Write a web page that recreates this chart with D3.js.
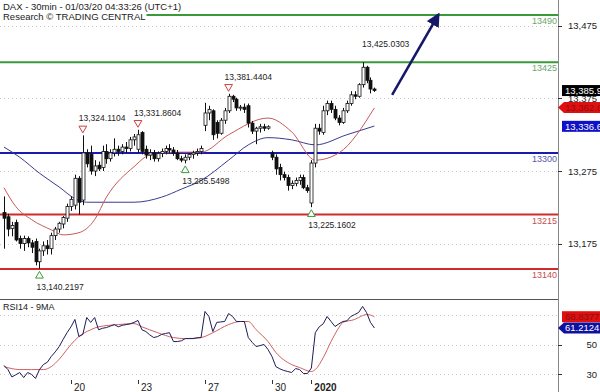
<!DOCTYPE html>
<meta charset="utf-8">
<style>
body { margin: 0; background: #fff; }
svg { display: block; font-family: "Liberation Sans", Arial, sans-serif; }
</style>
<script src="https://d3js.org/d3.v7.min.js"></script>
<div id="chart"></div>
<script>
// ---- data ----
// 30 min bars, [open, high, low, close]
var ohlc = [
  [13218,13240,13168,13210],[13212,13216,13185,13195],[13196,13205,13185,13200],[13204,13208,13178,13180],
  [13182,13186,13168,13175],[13175,13186,13165,13182],[13182,13185,13170,13176],[13176,13180,13162,13170],
  [13178,13182,13145,13150],[13150,13168,13140.22,13165],[13165,13178,13158,13172],[13172,13180,13160,13168],
  [13168,13190,13160,13186],[13186,13198,13180,13195],[13195,13205,13190,13203],[13202,13213,13196,13211],
  [13210,13230,13205,13226],
  [13226,13240,13220,13236],[13228,13270,13222,13265],[13265,13268,13215,13232],[13235,13324.11,13228,13300],
  [13300,13305,13280,13285],[13298,13310,13270,13275],[13275,13290,13268,13282],[13283,13288,13275,13278],
  [13280,13310,13275,13302],[13302,13312,13285,13292],[13292,13305,13288,13300],[13300,13320,13295,13305],
  [13305,13310,13296,13302],[13302,13312,13298,13308],[13308,13315,13300,13306],[13306,13322,13302,13318],
  [13318,13326,13310,13322],
  [13305,13331.86,13300,13325],[13328,13330,13298,13302],[13305,13310,13292,13297],[13297,13305,13290,13300],
  [13300,13304,13288,13292],[13292,13302,13288,13299],[13299,13306,13294,13302],[13302,13310,13298,13306],
  [13306,13312,13300,13304],[13304,13308,13296,13300],[13300,13304,13290,13292],[13292,13296,13287,13290],
  [13290,13298,13285.55,13294],[13294,13300,13290,13298],[13298,13303,13292,13300],[13300,13306,13296,13302],
  [13302,13310,13298,13306],
  [13338,13369,13330,13355],[13355,13365,13345,13360],[13358,13360,13318,13325],[13342,13345,13320,13327],
  [13327,13348,13325,13345],[13345,13362,13340,13358],[13358,13381.44,13355,13378],[13378,13380,13370,13374],
  [13374,13376,13358,13362],[13362,13366,13358,13363],[13363,13368,13355,13360],[13365,13368,13335,13341],
  [13341,13344,13326,13330],[13330,13336,13312,13334],[13334,13340,13328,13336],[13336,13340,13330,13334],
  [13334,13338,13332,13336],
  [13300,13303,13290,13294],[13294,13298,13270,13278],[13280,13285,13262,13270],[13270,13274,13262,13266],
  [13266,13270,13248,13255],[13255,13262,13250,13258],[13258,13266,13254,13262],[13262,13270,13256,13266],
  [13266,13270,13250,13252],[13252,13256,13245,13248],
  [13231,13290,13225.16,13286],[13286,13340,13280,13334],[13334,13340,13325,13330],[13328,13365,13325,13358],
  [13358,13372,13352,13368],[13368,13372,13355,13360],[13360,13365,13345,13348],[13348,13352,13338,13342],
  [13342,13362,13340,13358],[13358,13372,13355,13368],[13368,13385,13365,13380],[13380,13385,13374,13378],
  [13378,13396,13376,13394],[13394,13425.03,13390,13418],[13418,13420,13396,13400],[13400,13404,13382,13388],
  [13388,13390,13384,13385.9]
];

// moving averages on price, [bar, value]
var maFast = [[0,13252],[3,13226],[7,13208],[12,13194],[15,13187],[19,13190],[23,13208],[26,13239],
  [33,13281],[37,13297],[45,13301],[50,13301],[57,13325],[67,13348],[73,13329],[79,13290],[85,13300],[94,13362]];
var maSlow = [[0,13308],[4,13294],[9,13272],[14,13253],[18,13237],[21,13232],[33,13232],[40,13239],
  [45,13250],[50,13262],[57,13290],[62,13311],[67,13321],[73,13318],[79,13311],[87,13325],[94,13337]];

// RSI14 per bar and its 9MA [bar, value]
var rsi = [35.8,33,28,29.5,31,27.6,31,29.7,27,33,36.4,38,41.9,45,48.6,53.4,58,
  62,67,55.4,56.8,68.3,65,68.3,60,61,61.5,62.5,63.5,62,63,63.5,64,65,
  66.3,60,58.8,56.5,54.7,55.4,56.8,57.5,58,52,52,52.5,54,54,54,54.5,54.7,
  72.4,69,58.8,65,65.3,65.6,71,69,65.6,65.6,65.6,54.7,51.4,48.6,49.3,50,46.6,
  41.9,35,33.5,32.4,31.7,31,33.7,33,30.3,30.3,
  34,58,62,64,69,65.6,62.2,64,65.6,66,69,70.3,71.7,75.8,71.7,65,61.2];
var rsiMa = [[0,35],[4,33],[7,33],[10,33],[12,35],[14,40],[17,50],[19,55.4],[22,60],[24,62],[29,63.5],
  [33,64.2],[35,62],[39,58],[43,54.7],[46,54],[50,54.7],[53,58],[57,63.5],[60,65.6],[62,65.6],[64,60],
  [67,52],[69,44.6],[73,36.4],[75,34.4],[78,31.7],[79,33],[81,41],[83,52],[85,61.5],[86,65],[89,67],
  [90,68.3],[92,70.3],[93,70],[94,68.8]];

// key levels
var levels = [13490, 13425, 13300, 13215, 13140];
var levelKind = ["res", "res", "pivot", "sup", "sup"];

// swing highs / lows
var swingHighs = [[20,13324.1104],[34,13331.8604],[57,13381.4404]];
var swingLows = [[9,13140.2197],[46,13285.5498],[78,13225.1602]];
var peakLabel = [91, 13425.0303];

// axes
var priceTicks = [13175, 13275, 13375, 13475];
var rsiTicks = [30, 50, 70];
var rsiTickLabels = ["30", "50"];
var dateTickBars = [17, 34, 51, 68, 78];
var dateTickLabels = ["20", "23", "27", "30", "2020"];

// last values shown on the axis
var lastClose = 13385.9, lastFast = 13362.6, lastSlow = 13336.6;
var lastRsi = 61.2124, lastRsiMa = 68.8377;

// projected move
var arrowFrom = [98.5, 13380], arrowTo = [110.2, 13490];

// ---- drawing ----
var W = 600, H = 392, axisX = 558;

var svg = d3.select("#chart").append("svg")
  .attr("width", W).attr("height", H);

var x = d3.scaleLinear().domain([0, 94]).range([4, 374.4]);
var y = d3.scaleLinear().domain([13140, 13490]).range([269, 15]);
var yr = d3.scaleLinear().domain([30, 70]).range([374, 315]);

var fmt = d3.format(",.4f");

// grid
svg.append("g").selectAll("line").data(priceTicks).enter().append("line")
  .attr("x1", 0).attr("x2", axisX)
  .attr("y1", d => Math.round(y(d)) + 0.5).attr("y2", d => Math.round(y(d)) + 0.5)
  .attr("stroke", "#c8c8c8").attr("stroke-dasharray", "1,3");
svg.append("g").selectAll("line").data(rsiTicks).enter().append("line")
  .attr("x1", 0).attr("x2", axisX)
  .attr("y1", d => Math.round(yr(d)) + 0.5).attr("y2", d => Math.round(yr(d)) + 0.5)
  .attr("stroke", "#c8c8c8").attr("stroke-dasharray", "1,3");

// level lines
var levelColor = { res: "#3a9a3a", pivot: "#1a1ab0", sup: "#d02a2a" };
var levelText = { res: "#6aa66a", pivot: "#5555aa", sup: "#c25050" };
svg.append("g").selectAll("line").data(levels).enter().append("line")
  .attr("x1", 0).attr("x2", axisX)
  .attr("y1", d => y(d)).attr("y2", d => y(d))
  .attr("stroke", (d, i) => levelColor[levelKind[i]])
  .attr("stroke-width", 2);
svg.append("g").selectAll("text").data(levels).enter().append("text")
  .attr("x", axisX - 1).attr("y", d => y(d) + 9)
  .attr("text-anchor", "end")
  .attr("font-size", "9px")
  .attr("fill", (d, i) => levelText[levelKind[i]])
  .text(d => d);

// moving averages
var maLine = d3.line().x(d => x(d[0])).y(d => y(d[1])).curve(d3.curveMonotoneX);
svg.append("path").datum(maSlow).attr("d", maLine)
  .attr("fill", "none").attr("stroke", "#3a3a90").attr("stroke-width", 1);
svg.append("path").datum(maFast).attr("d", maLine)
  .attr("fill", "none").attr("stroke", "#c85a5a").attr("stroke-width", 1);

// candles
var candles = svg.append("g").selectAll("g").data(ohlc).enter().append("g");
candles.append("line")
  .attr("x1", (d, i) => Math.round(x(i)) + 0.5).attr("x2", (d, i) => Math.round(x(i)) + 0.5)
  .attr("y1", d => y(d[1])).attr("y2", d => y(d[2]))
  .attr("stroke", "#111").attr("stroke-width", 1);
candles.append("rect")
  .attr("x", (d, i) => Math.round(x(i)) - 1)
  .attr("width", 3)
  .attr("y", d => y(Math.max(d[0], d[3])))
  .attr("height", d => Math.max(1, Math.abs(y(d[0]) - y(d[3]))))
  .attr("fill", d => d[3] >= d[0] ? "#fff" : "#111")
  .attr("stroke", "#111").attr("stroke-width", 0.8);

// swing markers
var tri = d3.symbol().type(d3.symbolTriangle).size(26);
svg.append("g").selectAll("path").data(swingHighs).enter().append("path")
  .attr("d", tri)
  .attr("transform", d => "translate(" + x(d[0]) + "," + (y(d[1]) - 7) + ") rotate(180)")
  .attr("fill", "#fff").attr("stroke", "#d04040").attr("stroke-width", 1);
svg.append("g").selectAll("text").data(swingHighs).enter().append("text")
  .attr("x", d => x(d[0]) - 4).attr("y", d => y(d[1]) - 14)
  .attr("font-size", "8.5px").attr("fill", "#222")
  .text(d => fmt(d[1]));
svg.append("g").selectAll("path").data(swingLows).enter().append("path")
  .attr("d", tri)
  .attr("transform", d => "translate(" + x(d[0]) + "," + (y(d[1]) + 7) + ")")
  .attr("fill", "#fff").attr("stroke", "#3a9a3a").attr("stroke-width", 1);
svg.append("g").selectAll("text").data(swingLows).enter().append("text")
  .attr("x", d => x(d[0]) - 3).attr("y", d => y(d[1]) + 21)
  .attr("font-size", "8.5px").attr("fill", "#222")
  .text(d => fmt(d[1]));
svg.append("text")
  .attr("x", x(peakLabel[0]) - 0.5).attr("y", y(peakLabel[1]) - 15)
  .attr("font-size", "8.5px").attr("fill", "#222")
  .text(fmt(peakLabel[1]));

// arrow
svg.append("defs").append("marker")
  .attr("id", "head").attr("viewBox", "0 0 10 10")
  .attr("refX", 8).attr("refY", 5)
  .attr("markerWidth", 5.5).attr("markerHeight", 5.5)
  .attr("orient", "auto")
  .append("path").attr("d", "M0,0 L10,5 L0,10 Z").attr("fill", "#16166a");
svg.append("line")
  .attr("x1", x(arrowFrom[0])).attr("y1", y(arrowFrom[1]))
  .attr("x2", x(arrowTo[0])).attr("y2", y(arrowTo[1]))
  .attr("stroke", "#16166a").attr("stroke-width", 2.5)
  .attr("marker-end", "url(#head)");

// header
var head = svg.append("g").attr("font-size", "9.5px").attr("fill", "#222");
var h2 = head.append("text").attr("x", 3).attr("y", 19.5).text("Research \u00a9 TRADING CENTRAL");
var hb = h2.node().getBBox();
head.insert("rect", "text").attr("x", 0).attr("y", 11).attr("width", hb.x + hb.width + 1).attr("height", 10).attr("fill", "#fff");
head.append("text").attr("x", 3).attr("y", 9.5).text("DAX - 30min - 01/03/20 04:33:26 (UTC+1)");

// RSI panel
svg.append("line").attr("x1", 0).attr("x2", axisX).attr("y1", 299.5).attr("y2", 299.5)
  .attr("stroke", "#555");
svg.append("text").attr("x", 3).attr("y", 310).attr("font-size", "9px").attr("fill", "#222")
  .text("RSI14 - 9MA");
svg.append("path").datum(rsiMa)
  .attr("d", d3.line().x(d => x(d[0])).y(d => yr(d[1])).curve(d3.curveMonotoneX))
  .attr("fill", "none").attr("stroke", "#d06060").attr("stroke-width", 1);
svg.append("path").datum(rsi)
  .attr("d", d3.line().x((d, i) => x(i)).y(d => yr(d)))
  .attr("fill", "none").attr("stroke", "#1c1c58").attr("stroke-width", 1);

// date axis
var dates = svg.append("g");
dates.selectAll("line").data(dateTickBars).enter().append("line")
  .attr("x1", d => Math.round(x(d)) + 0.5).attr("x2", d => Math.round(x(d)) + 0.5)
  .attr("y1", 380).attr("y2", 384).attr("stroke", "#333");
dates.selectAll("text").data(dateTickBars).enter().append("text")
  .attr("x", d => x(d) + 3).attr("y", 390.5)
  .attr("font-size", "10px").attr("fill", "#222")
  .attr("font-weight", (d, i) => dateTickLabels[i] === "2020" ? "bold" : "normal")
  .text((d, i) => dateTickLabels[i]);

// right axis
svg.append("line").attr("x1", axisX + 0.5).attr("x2", axisX + 0.5).attr("y1", 0).attr("y2", H)
  .attr("stroke", "#888");
var ra = svg.append("g").attr("font-size", "9.5px").attr("fill", "#222");
ra.selectAll("line.p").data(priceTicks).enter().append("line")
  .attr("x1", axisX).attr("x2", axisX + 4)
  .attr("y1", d => Math.round(y(d)) + 0.5).attr("y2", d => Math.round(y(d)) + 0.5)
  .attr("stroke", "#333");
ra.selectAll("text.p").data(priceTicks).enter().append("text")
  .attr("x", 597).attr("y", d => y(d) + 3.5).attr("text-anchor", "end")
  .text(d => d3.format(",")(d));
ra.selectAll("line.r").data(rsiTickLabels).enter().append("line")
  .attr("x1", axisX).attr("x2", axisX + 4)
  .attr("y1", d => Math.round(yr(+d)) + 0.5).attr("y2", d => Math.round(yr(+d)) + 0.5)
  .attr("stroke", "#333");
ra.selectAll("text.r").data(rsiTickLabels).enter().append("text")
  .attr("x", 597).attr("y", d => yr(+d) + 3.5).attr("text-anchor", "end")
  .text(d => d);

// value tags on the axis
function tag(val, yy, fill, color, pointed, label) {
  var g = svg.append("g");
  var top = yy - 5.5, bot = yy + 5.5;
  if (pointed) {
    g.append("path")
      .attr("d", "M" + axisX + "," + yy + " L" + (axisX + 6) + "," + top + " L" + W + "," + top +
        " L" + W + "," + bot + " L" + (axisX + 6) + "," + bot + " Z")
      .attr("fill", fill);
  } else {
    g.append("rect").attr("x", 562).attr("y", top).attr("width", W - 562).attr("height", 11)
      .attr("fill", fill);
  }
  g.append("text").attr("x", 565).attr("y", yy + 3.5)
    .attr("font-size", "9.5px").attr("fill", color).text(label);
}
tag(lastClose, y(lastClose), "#000", "#fff", false, d3.format(",.1f")(lastClose));
tag(lastFast, y(lastFast), "#e01010", "#8a1010", true, d3.format(",.1f")(lastFast));
tag(lastSlow, y(lastSlow), "#1010c8", "#fff", false, d3.format(",.1f")(lastSlow));
tag(lastRsiMa, yr(lastRsiMa), "#e01010", "#8a1010", false, lastRsiMa.toFixed(4));
tag(lastRsi, yr(lastRsi), "#1010a0", "#fff", true, lastRsi.toFixed(4));
</script>
